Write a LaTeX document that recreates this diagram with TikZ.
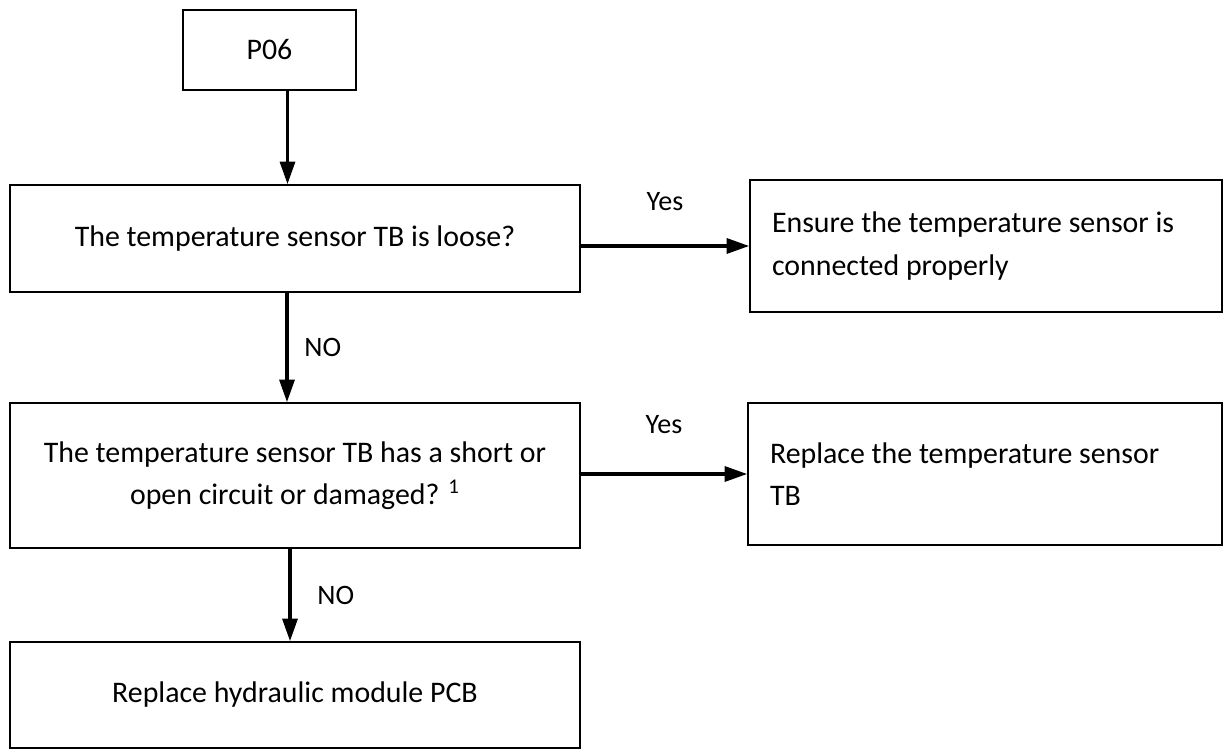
\documentclass[tikz,border=0pt]{standalone}
\usepackage{fontspec}
\setmainfont{Carlito}
\usetikzlibrary{arrows.meta}

\tikzset{
  box/.style={draw=black, line width=1pt, minimum width=11.4cm, align=center, inner sep=0pt},
  rbox/.style={draw=black, line width=1pt, align=flush left, inner sep=0.44cm, anchor=center},
  flow/.style={line width=1.8pt, -{Triangle[length=0.45cm, width=0.3cm]}},
  lbl/.style={font=\fontsize{16}{20}\selectfont}
}

\begin{document}
\begin{tikzpicture}[x=0.02cm, y=-0.02cm, font=\fontsize{17}{24}\selectfont]
\useasboundingbox (0,0) rectangle (1226,756);

% boxes
\node[box, minimum width=3.46cm, minimum height=1.6cm] (p06) at (269.5,50) {P06};
\node[box, minimum height=2.14cm] (loose) at (295,238.5) {The temperature sensor TB is loose?};
\node[rbox, text width=8.56cm, minimum height=2.64cm] (ensure) at (986,246)
  {Ensure the temperature sensor is\\connected properly};
\node[box, minimum height=2.9cm] (short) at (295,475.5)
  {The temperature sensor TB has a short or\\open circuit or damaged? \textsuperscript{1}};
\node[rbox, text width=8.6cm, minimum height=2.84cm] (sensor) at (985,474)
  {Replace the temperature sensor\\TB};
\node[box, minimum height=2.12cm] (pcb) at (295,695) {Replace hydraulic module PCB};

% connectors
\draw[flow] ([xshift=0.36cm]p06.south) -- ([xshift=0.36cm]p06.south |- loose.north);
\draw[flow] (loose.east |- ensure) -- (ensure.west) node[lbl, midway, above=0.55cm] {Yes};
\draw[flow] ([xshift=-0.16cm]loose.south) -- ([xshift=-0.16cm]loose.south |- short.north)
  node[lbl, midway, right=0.2cm] {NO};
\draw[flow] (short.east |- sensor) -- (sensor.west) node[lbl, midway, above=0.65cm] {Yes};
\draw[flow] ([xshift=-0.1cm]short.south) -- ([xshift=-0.1cm]short.south |- pcb.north)
  node[lbl, midway, right=0.4cm] {NO};

\end{tikzpicture}
\end{document}
